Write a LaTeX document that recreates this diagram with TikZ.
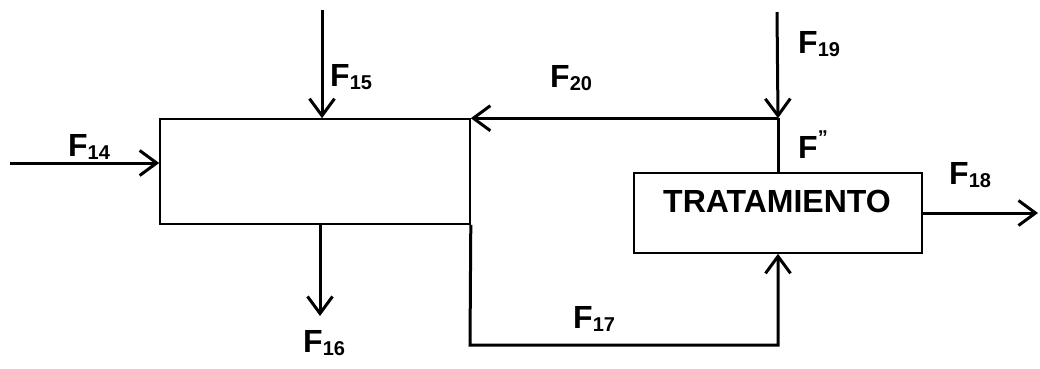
\documentclass[tikz,border=0pt]{standalone}
\usepackage{fontspec}
\setmainfont{Liberation Sans}
\usetikzlibrary{arrows.meta}
\newcommand{\Fsub}[1]{F\raisebox{-3pt}{\fontsize{20}{20}\selectfont #1}}
\tikzset{
  flow/.style={line width=3pt, -{Straight Barb[length=17pt,width=25pt]}},
  pipe/.style={line width=3pt},
  unit/.style={draw, line width=1.6pt, inner sep=0pt},
  lbl/.style={anchor=base west, inner sep=0pt, font=\bfseries\fontsize{32}{36}\selectfont},
  boxtext/.style={inner sep=0pt, font=\bfseries\fontsize{32}{36}\selectfont},
}
\begin{document}
\begin{tikzpicture}[x=1pt,y=-1pt]
  \useasboundingbox (0,0) rectangle (1040,368);
  % units
  \node[unit, minimum width=310pt, minimum height=105pt] (mix) at (315,171.5) {};
  \node[unit, minimum width=288pt, minimum height=80pt] (trat) at (778,213) {};
  \node[boxtext] (tratlbl) at (777,201.5) {TRATAMIENTO};
  % coordinates
  \coordinate (s14) at (10,163);
  \coordinate (s15) at (322,10);
  \coordinate (e16) at (320,316);
  \coordinate (c17) at (470,345);
  \coordinate (e18) at (1038,213);
  \coordinate (s19) at (777,12);
  \coordinate (j) at (trat.north |- mix.north);
  % streams
  \draw[flow] (s14) -- (s14 -| mix.west);
  \draw[flow] (s15) -- (s15 |- mix.north);
  \draw[flow] (e16 |- mix.south) -- (e16);
  \draw[flow] (mix.south east) -- (c17) -| (trat.south);
  \draw[flow] (trat.east) -- (e18);
  \draw[flow] (s19) -- (j);
  \draw[pipe] (trat.north) -- (j);
  \draw[flow] (j) -- (mix.north east);
  % labels
  \node[lbl] (l14) at (68,156) {\Fsub{14}};
  \node[lbl] (l15) at (330,86) {\Fsub{15}};
  \node[lbl] (l16) at (303,352) {\Fsub{16}};
  \node[lbl] (l17) at (573,328) {\Fsub{17}};
  \node[lbl] (l18) at (949,184) {\Fsub{18}};
  \node[lbl] (l19) at (798,53) {\Fsub{19}};
  \node[lbl] (l20) at (550,87) {\Fsub{20}};
  \node[lbl] (lpp) at (798,158) {F\raisebox{14pt}{\fontsize{20}{20}\selectfont ”}};
\end{tikzpicture}
\end{document}
